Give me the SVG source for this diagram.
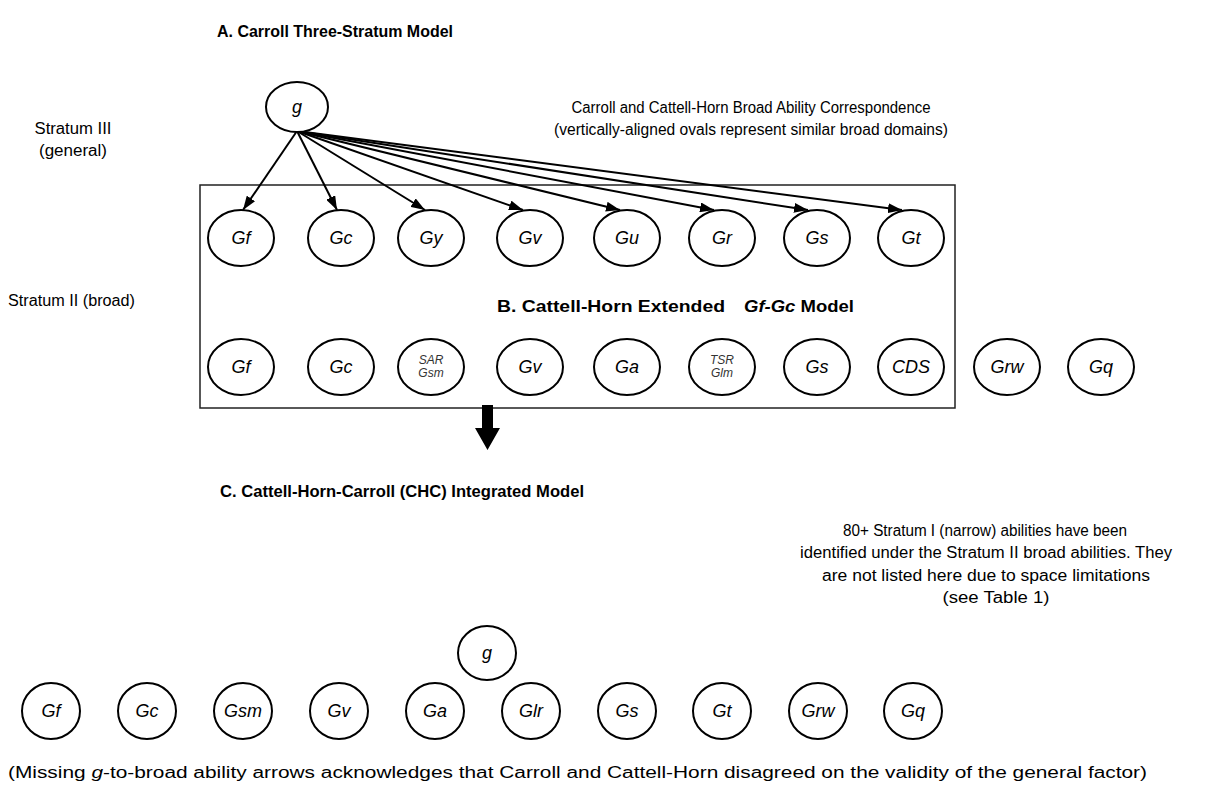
<svg xmlns="http://www.w3.org/2000/svg" width="1213" height="807" viewBox="0 0 1213 807">
<style>
text{font-family:"Liberation Sans",Arial,sans-serif;fill:#000}
.t{font-size:17px;font-weight:bold}
.n{font-size:16px}
.lab{font-size:18px;font-style:italic;text-anchor:middle}
.sm{font-size:12px;font-style:italic;text-anchor:middle;fill:#333}
.ov{fill:#fff;stroke:#000;stroke-width:2}
.c line{stroke:#000;stroke-width:2}
</style>
<defs>
<marker id="ah" viewBox="0 0 14 10" refX="14" refY="5" markerWidth="14" markerHeight="10" markerUnits="userSpaceOnUse" orient="auto">
<path d="M0,0 L14,5 L0,10 z" fill="#000"/>
</marker>
</defs>
<rect width="1213" height="807" fill="#fff"/>

<text class="t" x="217" y="37" textLength="236" lengthAdjust="spacingAndGlyphs">A.  Carroll Three-Stratum Model</text>
<text class="n" x="73" y="134" text-anchor="middle" textLength="77" lengthAdjust="spacingAndGlyphs">Stratum III</text>
<text class="n" x="73" y="156" text-anchor="middle" textLength="68" lengthAdjust="spacingAndGlyphs">(general)</text>
<text class="n" x="751" y="113" text-anchor="middle" textLength="359" lengthAdjust="spacingAndGlyphs">Carroll and Cattell-Horn Broad Ability Correspondence</text>
<text class="n" x="751" y="135" text-anchor="middle" textLength="394" lengthAdjust="spacingAndGlyphs">(vertically-aligned ovals represent similar broad domains)</text>
<text class="n" x="8" y="306" textLength="127" lengthAdjust="spacingAndGlyphs">Stratum II (broad)</text>

<rect x="200" y="185" width="755" height="223" fill="none" stroke="#222" stroke-width="1.5"/>

<text class="t" x="497" y="312" textLength="228" lengthAdjust="spacingAndGlyphs">B.  Cattell-Horn Extended</text>
<text class="t" x="744" y="312" textLength="110" lengthAdjust="spacingAndGlyphs"><tspan font-style="italic">Gf-Gc</tspan> Model</text>

<g id="connectors" class="c">
<line x1="297" y1="131" x2="243" y2="210" marker-end="url(#ah)"/>
<line x1="297" y1="131" x2="337" y2="210" marker-end="url(#ah)"/>
<line x1="297" y1="131" x2="425" y2="210" marker-end="url(#ah)"/>
<line x1="297" y1="131" x2="523" y2="210" marker-end="url(#ah)"/>
<line x1="297" y1="131" x2="620" y2="210" marker-end="url(#ah)"/>
<line x1="297" y1="131" x2="714" y2="210" marker-end="url(#ah)"/>
<line x1="297" y1="131" x2="808" y2="210" marker-end="url(#ah)"/>
<line x1="297" y1="131" x2="902" y2="210" marker-end="url(#ah)"/>
</g>

<g id="gA"><ellipse class="ov" cx="297" cy="107" rx="31" ry="25"/><text class="lab" x="297" y="113">g</text></g>

<g id="A-Gf"><ellipse class="ov" cx="241" cy="238" rx="33" ry="28"/><text class="lab" x="241" y="244">Gf</text></g>
<g id="A-Gc"><ellipse class="ov" cx="341" cy="238" rx="33" ry="28"/><text class="lab" x="341" y="244">Gc</text></g>
<g id="A-Gy"><ellipse class="ov" cx="431" cy="238" rx="33" ry="28"/><text class="lab" x="431" y="244">Gy</text></g>
<g id="A-Gv"><ellipse class="ov" cx="530" cy="238" rx="33" ry="28"/><text class="lab" x="530" y="244">Gv</text></g>
<g id="A-Gu"><ellipse class="ov" cx="627" cy="238" rx="33" ry="28"/><text class="lab" x="627" y="244">Gu</text></g>
<g id="A-Gr"><ellipse class="ov" cx="722" cy="238" rx="33" ry="28"/><text class="lab" x="722" y="244">Gr</text></g>
<g id="A-Gs"><ellipse class="ov" cx="817" cy="238" rx="33" ry="28"/><text class="lab" x="817" y="244">Gs</text></g>
<g id="A-Gt"><ellipse class="ov" cx="911" cy="238" rx="33" ry="28"/><text class="lab" x="911" y="244">Gt</text></g>

<g id="B-Gf"><ellipse class="ov" cx="241" cy="367" rx="33" ry="28"/><text class="lab" x="241" y="373">Gf</text></g>
<g id="B-Gc"><ellipse class="ov" cx="341" cy="367" rx="33" ry="28"/><text class="lab" x="341" y="373">Gc</text></g>
<g id="B-SAR"><ellipse class="ov" cx="431" cy="367" rx="33" ry="28"/><text class="sm" x="431" y="364">SAR</text><text class="sm" x="431" y="377">Gsm</text></g>
<g id="B-Gv"><ellipse class="ov" cx="530" cy="367" rx="33" ry="28"/><text class="lab" x="530" y="373">Gv</text></g>
<g id="B-Ga"><ellipse class="ov" cx="627" cy="367" rx="33" ry="28"/><text class="lab" x="627" y="373">Ga</text></g>
<g id="B-TSR"><ellipse class="ov" cx="722" cy="367" rx="33" ry="28"/><text class="sm" x="722" y="364">TSR</text><text class="sm" x="722" y="377">Glm</text></g>
<g id="B-Gs"><ellipse class="ov" cx="817" cy="367" rx="33" ry="28"/><text class="lab" x="817" y="373">Gs</text></g>
<g id="B-CDS"><ellipse class="ov" cx="911" cy="367" rx="33" ry="28"/><text class="lab" x="911" y="373">CDS</text></g>
<g id="B-Grw"><ellipse class="ov" cx="1007" cy="367" rx="33" ry="28"/><text class="lab" x="1007" y="373">Grw</text></g>
<g id="B-Gq"><ellipse class="ov" cx="1101" cy="367" rx="33" ry="28"/><text class="lab" x="1101" y="373">Gq</text></g>

<path id="bigArrow" d="M482,405 H493 V428 H500 L487.5,450 L475,428 H482 Z" fill="#000"/>

<text class="t" x="220" y="497" textLength="364" lengthAdjust="spacingAndGlyphs">C.  Cattell-Horn-Carroll (CHC) Integrated Model</text>

<text class="n" x="985" y="536" text-anchor="middle" textLength="284" lengthAdjust="spacingAndGlyphs">80+ Stratum I (narrow) abilities have been</text>
<text class="n" x="986" y="558" text-anchor="middle" textLength="372" lengthAdjust="spacingAndGlyphs">identified under the Stratum II broad abilities. They</text>
<text class="n" x="986" y="581" text-anchor="middle" textLength="328" lengthAdjust="spacingAndGlyphs">are not listed here due to space limitations</text>
<text class="n" x="996" y="603" text-anchor="middle" textLength="107" lengthAdjust="spacingAndGlyphs">(see Table 1)</text>

<g id="C-g"><ellipse class="ov" cx="487" cy="653" rx="29" ry="27"/><text class="lab" x="487" y="659">g</text></g>

<g id="C-Gf"><ellipse class="ov" cx="51" cy="711" rx="29" ry="28"/><text class="lab" x="51" y="717">Gf</text></g>
<g id="C-Gc"><ellipse class="ov" cx="147" cy="711" rx="29" ry="28"/><text class="lab" x="147" y="717">Gc</text></g>
<g id="C-Gsm"><ellipse class="ov" cx="243" cy="711" rx="29" ry="28"/><text class="lab" x="243" y="717">Gsm</text></g>
<g id="C-Gv"><ellipse class="ov" cx="339" cy="711" rx="29" ry="28"/><text class="lab" x="339" y="717">Gv</text></g>
<g id="C-Ga"><ellipse class="ov" cx="435" cy="711" rx="29" ry="28"/><text class="lab" x="435" y="717">Ga</text></g>
<g id="C-Glr"><ellipse class="ov" cx="531" cy="711" rx="29" ry="28"/><text class="lab" x="531" y="717">Glr</text></g>
<g id="C-Gs"><ellipse class="ov" cx="627" cy="711" rx="29" ry="28"/><text class="lab" x="627" y="717">Gs</text></g>
<g id="C-Gt"><ellipse class="ov" cx="722" cy="711" rx="29" ry="28"/><text class="lab" x="722" y="717">Gt</text></g>
<g id="C-Grw"><ellipse class="ov" cx="818" cy="711" rx="29" ry="28"/><text class="lab" x="818" y="717">Grw</text></g>
<g id="C-Gq"><ellipse class="ov" cx="913" cy="711" rx="29" ry="28"/><text class="lab" x="913" y="717">Gq</text></g>

<text class="n" x="8" y="778" textLength="1139" lengthAdjust="spacingAndGlyphs">(Missing <tspan font-style="italic">g</tspan>-to-broad ability arrows acknowledges that Carroll and Cattell-Horn disagreed on the validity of the general factor)</text>
</svg>
